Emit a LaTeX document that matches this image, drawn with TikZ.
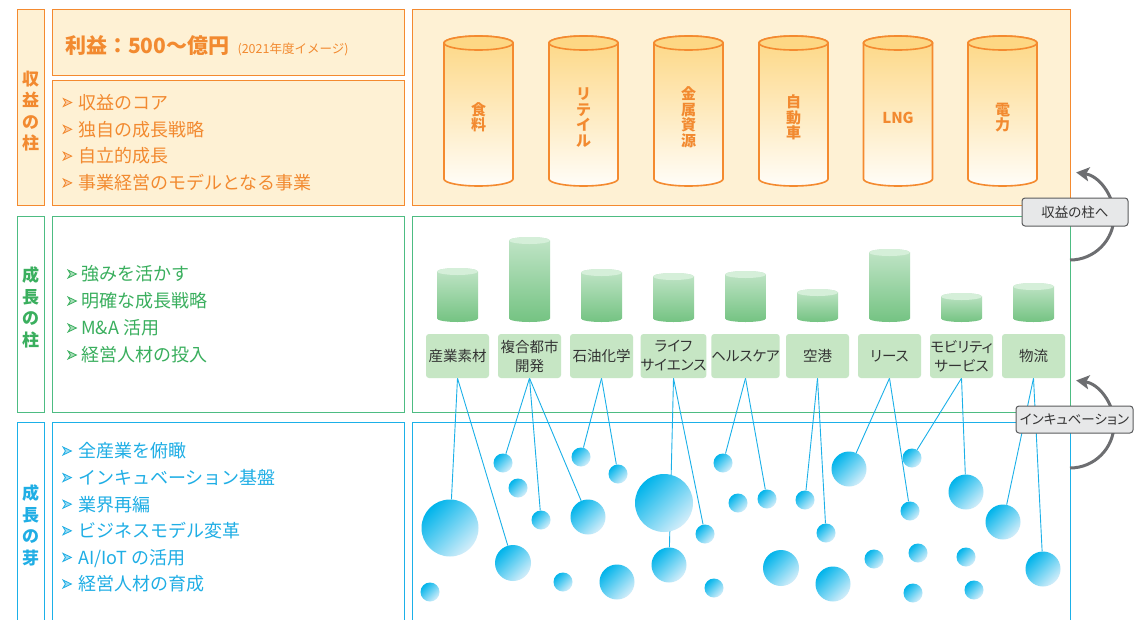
\documentclass[tikz,border=0pt]{standalone}
\usepackage{fontspec}
\setmainfont{Noto Sans CJK JP}
\newfontfamily\jpp[RawFeature=+palt]{Noto Sans CJK JP}
\usetikzlibrary{arrows.meta}
\pgfdeclarelayer{back}
\pgfdeclarelayer{wires}
\pgfsetlayers{back,wires,main}

\definecolor{orn}{HTML}{F48A2F}
\definecolor{orntxt}{HTML}{F28A30}
\definecolor{cream}{HTML}{FEF1D4}
\definecolor{cyltop}{HTML}{FDD784}
\definecolor{cylbot}{HTML}{FFFDF8}
\definecolor{grn}{HTML}{4DBC82}
\definecolor{grntxt}{HTML}{3AAF5E}
\definecolor{gtop}{HTML}{C2E5C8}
\definecolor{gbot}{HTML}{74C382}
\definecolor{gcap}{HTML}{D5EFD9}
\definecolor{glab}{HTML}{C6E6C4}
\definecolor{blu}{HTML}{1BB0E8}
\definecolor{blutxt}{HTML}{1FAEE5}
\definecolor{bubdark}{HTML}{00B4EB}
\definecolor{bublight}{HTML}{D4EEFA}
\definecolor{ink}{HTML}{333333}
\definecolor{arrg}{HTML}{6D6E71}
\definecolor{tagf}{HTML}{E7E8E9}
\definecolor{tagb}{HTML}{5A5B5D}

% arrowhead bullet: left x, centre y, colour
\newcommand\bullethead[3]{%
  \draw[draw=#3, fill=#3!45, line width=0.8pt, line join=miter]
    (#1,#2-4) -- (#1+8.4,#2) -- (#1,#2+4) -- (#1+2.4,#2) -- cycle;}

% orange pillar: name, centre x, label
\newcommand\ocyl[3]{%
  \shade[top color=cyltop, bottom color=cylbot, draw=orn, line width=1.6pt]
    (#2-34.5,43) -- (#2-34.5,179)
    arc[start angle=180, end angle=0, x radius=34.5, y radius=7]
    -- (#2+34.5,43)
    arc[start angle=0, end angle=-180, x radius=34.5, y radius=7] -- cycle;
  \draw[draw=orn, line width=1.6pt, fill=cyltop] (#2,43) ellipse[x radius=34.5, y radius=7];
  \node[cyltext] (#1) at (#2,117.5) {#3};}

% green column: centre x, top y
\newcommand\gcyl[2]{%
  \shade[top color=gtop, bottom color=gbot]
    (#1-20.5,#2+3.5) -- (#1-20.5,318.5)
    arc[start angle=180, end angle=0, x radius=20.5, y radius=3.5]
    -- (#1+20.5,#2+3.5)
    arc[start angle=0, end angle=-180, x radius=20.5, y radius=3.5] -- cycle;
  \fill[gcap] (#1,#2+3.5) ellipse[x radius=20.5, y radius=3.5];}

\begin{document}
\begin{tikzpicture}[x=1pt, y=-1pt,
  panel/.style={draw, line width=1.4pt, inner sep=0pt, anchor=north west},
  sidelabel/.style={font=\fontsize{17}{21.5}\selectfont\bfseries, align=center, inner sep=0pt},
  item/.style={anchor=west, inner sep=0pt, font=\fontsize{18}{18}\selectfont, text height=15.8pt, text depth=2.2pt},
  cyltext/.style={font=\fontsize{15}{15.5}\selectfont\bfseries, text=orntxt, align=center, inner sep=0pt},
  seglabel/.style={fill=glab, rounded corners=3pt, minimum width=63pt, minimum height=44pt, inner sep=0pt,
    align=center, text=ink, font=\jpp\fontsize{14.5}{19}\selectfont},
  bub/.style={circle, inner sep=0pt, top color=bubdark, bottom color=bublight, shading angle=45},
  wire/.style={draw=blu, line width=0.9pt},
  lift/.style={draw=arrg, line width=3pt, -{Stealth[length=13pt, width=14pt, inset=3pt]}},
  tag/.style={draw=tagb, fill=tagf, line width=1pt, rounded corners=3pt, inner sep=0pt,
    text=ink, font=\jpp\fontsize{13.5}{14}\selectfont}
]
\useasboundingbox (0,0) rectangle (1143,619);
\clip (0,0) rectangle (1143,619);

% ---- panels ----
\begin{pgfonlayer}{back}
  \node[panel, draw=orn, fill=cream, minimum width=27pt,  minimum height=196pt] (pside) at (17,9) {};
  \node[panel, draw=orn, fill=cream, minimum width=352pt, minimum height=66pt]  (phead) at (52,9) {};
  \node[panel, draw=orn, fill=cream, minimum width=352pt, minimum height=125pt] (plist) at (52,80) {};
  \node[panel, draw=orn, fill=cream, minimum width=658pt, minimum height=196pt] (pbars) at (412,9) {};
  \node[panel, draw=grn, fill=white, minimum width=27pt,  minimum height=196pt] (gside) at (17,216) {};
  \node[panel, draw=grn, fill=white, minimum width=352pt, minimum height=196pt] (glist) at (52,216) {};
  \node[panel, draw=grn, fill=white, minimum width=658pt, minimum height=196pt] (gbars) at (412,216) {};
  \node[panel, draw=blu, fill=white, minimum width=27pt,  minimum height=220pt] (sside) at (17,422) {};
  \node[panel, draw=blu, fill=white, minimum width=352pt, minimum height=220pt] (slist) at (52,422) {};
  \node[panel, draw=blu, fill=white, minimum width=658pt, minimum height=220pt] (sfield) at (412,422) {};
\end{pgfonlayer}

% ---- side titles ----
\node[sidelabel, text=orntxt] (sideO) at (30.5,111)   {収\\益\\の\\柱};
\node[sidelabel, text=grntxt] (sideG) at (30.5,307.5) {成\\長\\の\\柱};
\node[sidelabel, text=blutxt] (sideB) at (30.5,525.5) {成\\長\\の\\芽};

% ---- profit line ----
\node[anchor=base west, inner sep=0pt, text=orntxt] (profit) at (65,53)
  {{\fontsize{21}{21}\selectfont\bfseries 利益：500～億円}\hspace{8pt}{\fontsize{12.5}{13}\selectfont (2021年度イメージ)}};

% ---- bullet lists ----
\foreach \t [count=\i, evaluate=\i as \yy using 102.5+26.8*(\i-1)] in
    {収益のコア, 独自の成長戦略, 自立的成長, 事業経営のモデルとなる事業}{
  \bullethead{63.3}{\yy}{orntxt}
  \node[item, text=orntxt] (oitem\i) at (78, \yy) {\t};}
\foreach \t [count=\i, evaluate=\i as \yy using 274+27*(\i-1)] in
    {強みを活かす, 明確な成長戦略, M\&A\ 活用, 経営人材の投入}{
  \bullethead{68}{\yy}{grntxt}
  \node[item, text=grntxt] (gitem\i) at (81, \yy) {\t};}
\foreach \t [count=\i, evaluate=\i as \yy using 451+26.6*(\i-1)] in
    {全産業を俯瞰, インキュベーション基盤, 業界再編, ビジネスモデル変革, AI/IoT\ の活用, 経営人材の育成}{
  \bullethead{63}{\yy}{blutxt}
  \node[item, text=blutxt] (bitem\i) at (78, \yy) {\t};}

% ---- earning pillars ----
\ocyl{food}{478.5}{食\\料}
\ocyl{retail}{583.5}{リ\\テ\\イ\\ル}
\ocyl{metal}{688.5}{金\\属\\資\\源}
\ocyl{auto}{793.5}{自\\動\\車}
\ocyl{lng}{898}{LNG}
\ocyl{power}{1002.5}{電\\力}

% ---- growth columns ----
\gcyl{457.5}{268}
\gcyl{529.5}{237}
\gcyl{601.5}{269}
\gcyl{673.5}{273}
\gcyl{745.5}{271}
\gcyl{817.5}{289}
\gcyl{889.5}{249}
\gcyl{961.5}{293}
\gcyl{1033.5}{283}

\node[seglabel] (l1) at (457.5,356)  {産業素材};
\node[seglabel] (l2) at (529.5,356)  {複合都市\\開発};
\node[seglabel] (l3) at (601.5,356)  {石油化学};
\node[seglabel] (l4) at (673.5,356)  {ライフ\\サイエンス};
\node[seglabel] (l5) at (745.5,356)  {ヘルスケア};
\node[seglabel] (l6) at (817.5,356)  {空港};
\node[seglabel] (l7) at (889.5,356)  {リース};
\node[seglabel] (l8) at (961.5,356)  {モビリティ\\サービス};
\node[seglabel] (l9) at (1033.5,356) {物流};

% ---- seed bubbles ----
\foreach \n/\x/\y/\d in {
   1/450/528/57,  2/503/463/19,  3/518/488/19,  4/541/520/19,  5/581/457/19,
   6/618/474/19,  7/588/517/35,  8/513/563/36,  9/430/592/19, 10/563/582/19,
  11/617/582/35, 12/664/503/58, 13/669/565/35, 14/705/534/19, 15/723/463/19,
  16/714/588/19, 17/738/503/19, 18/767/499/19, 19/781/568/36, 20/805/500/19,
  21/849/469/35, 22/912/458/19, 23/826/533/19, 24/910/511/19, 25/966/492/35,
  26/1003/522/35, 27/833/584/35, 28/874/559/19, 29/918/553/19, 30/966/557/19,
  31/913/593/19, 32/974/590/19, 33/1043/569/35}
  \node[bub, minimum size=\d pt] (b\n) at (\x,\y) {};

\begin{pgfonlayer}{wires}
  \foreach \s/\t in {l1/b1, l1/b8, l2/b2, l2/b4, l2/b7, l3/b5, l3/b6, l4/b13, l4/b14,
                     l5/b15, l5/b18, l6/b20, l6/b23, l7/b21, l7/b24, l8/b22, l8/b25, l9/b26, l9/b33}
    \draw[wire] (\s.south) -- (\t);
\end{pgfonlayer}

% ---- promotion arrows ----
\coordinate (gEdge) at (1070,260);
\coordinate (sEdge) at (1070,468);
\draw[lift] (gEdge) arc[start angle=90, end angle=-82, radius=44];
\draw[lift] (sEdge) arc[start angle=90, end angle=-82, radius=44];
\node[tag, minimum width=106pt, minimum height=28pt] (tagUp)  at (1075,212)   {収益の柱へ};
\node[tag, minimum width=117pt, minimum height=27pt] (tagInc) at (1074.5,419.5) {インキュベーション};
\end{tikzpicture}
\end{document}
